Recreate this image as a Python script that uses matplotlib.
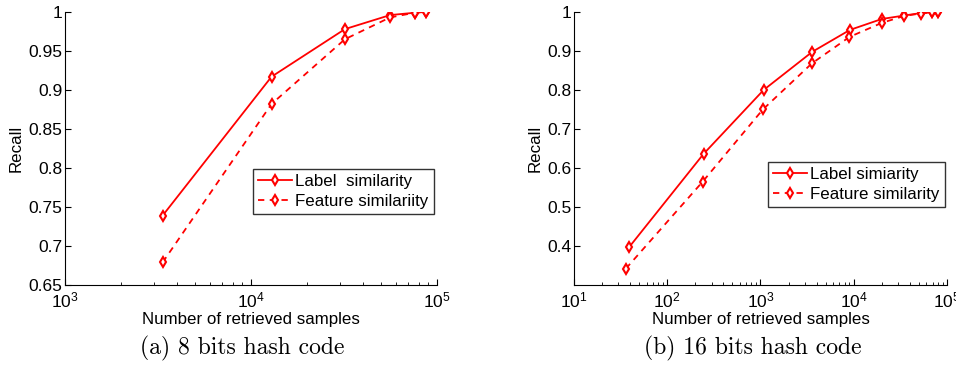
import numpy as np
import matplotlib.pyplot as plt

plt.rcParams['font.family'] = ['Liberation Sans', 'DejaVu Sans']
plt.rcParams['mathtext.fontset'] = 'custom'
plt.rcParams['mathtext.rm'] = 'Liberation Sans'
plt.rcParams['mathtext.it'] = 'Liberation Sans'
plt.rcParams['mathtext.default'] = 'regular'

# (a) 8 bits
samples_8 = [3350, 12900, 32000, 56000, 76000, 87000]
label_8 = [0.739, 0.917, 0.978, 0.996, 0.999, 1.0]
feature_8 = [0.679, 0.882, 0.965, 0.993, 0.999, 1.0]

# (b) 16 bits
samples_16 = [39, 245, 1080, 3600, 9100, 20000, 35000, 52000, 69000, 80000]
label_16 = [0.397, 0.636, 0.800, 0.898, 0.954, 0.982, 0.991, 0.997, 0.999, 1.0]
samples_16f = [36, 240, 1060, 3550, 9000, 20000, 35000, 52000, 69000, 80000]
feature_16 = [0.342, 0.565, 0.750, 0.868, 0.936, 0.972, 0.990, 0.996, 0.999, 1.0]

fig = plt.figure(figsize=(9.56, 3.69), dpi=100)
ax1 = fig.add_axes([0.068, 0.2276, 0.389, 0.74])
ax2 = fig.add_axes([0.6004, 0.2276, 0.3902, 0.74])

panels = [
    (ax1, samples_8, label_8, samples_8, feature_8, (1e3, 1e5), (0.65, 1.0),
     np.arange(0.65, 1.001, 0.05), ['0.65', '0.7', '0.75', '0.8', '0.85', '0.9', '0.95', '1'],
     ['Label  similarity', 'Feature similariity'], (0.505, 0.425)),
    (ax2, samples_16, label_16, samples_16f, feature_16, (1e1, 1e5), (0.3, 1.0),
     np.arange(0.4, 1.001, 0.1), ['0.4', '0.5', '0.6', '0.7', '0.8', '0.9', '1'],
     ['Label simiarity', 'Feature similarity'], (0.52, 0.45)),
]

for ax, xs, ys, xf, yf, xlim, ylim, yt, ytl, names, lpos in panels:
    ax.plot(xs, ys, '-', color='red', lw=1.3, marker='d', ms=5,
            mfc='white', mec='red', mew=1.5, label=names[0])
    ax.plot(xf, yf, '--', color='red', lw=1.3, marker='d', ms=5,
            mfc='white', mec='red', mew=1.5, label=names[1], dashes=(3.5, 3))
    ax.set_xscale('log')
    ax.set_xlim(*xlim)
    ax.set_ylim(*ylim)
    ax.set_yticks(yt)
    ax.set_yticklabels(ytl)
    ax.spines['top'].set_visible(False)
    ax.spines['right'].set_visible(False)
    ax.tick_params(direction='in', labelsize=12.5, length=4, pad=4)
    ax.tick_params(axis='y', pad=2)
    ax.tick_params(which='minor', direction='in', length=2)
    ax.set_xlabel('Number of retrieved samples', fontsize=12.2, labelpad=1)
    ax.set_ylabel('Recall', fontsize=12.2, labelpad=3)
    leg = ax.legend(loc='upper left', bbox_to_anchor=lpos, fontsize=12.2,
                    frameon=True, fancybox=False, edgecolor='black',
                    handlelength=2.0, handletextpad=0.2, borderpad=0.3,
                    labelspacing=0.3, borderaxespad=0)
    leg.get_frame().set_linewidth(1.0)

fig.text(0.253, 0.04, '(a) 8 bits hash code', fontsize=17, family='cmr10',
         ha='center', va='baseline')
fig.text(0.787, 0.04, '(b) 16 bits hash code', fontsize=17, family='cmr10',
         ha='center', va='baseline')

fig.savefig('out.png', dpi=100)
